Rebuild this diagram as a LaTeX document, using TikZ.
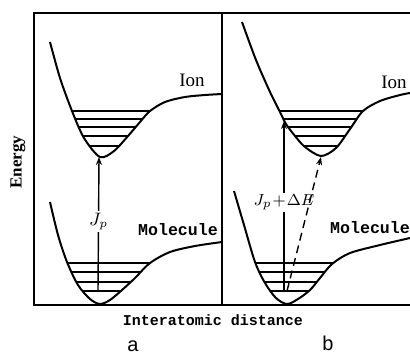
\documentclass[tikz,border=0pt]{standalone}
\usepackage{fontspec}
\setmainfont{Liberation Serif}
\setsansfont{Liberation Sans}
\setmonofont{Liberation Mono}
\usepackage{tikz}
\usetikzlibrary{arrows.meta}
\tikzset{
  frame/.style={line width=1pt},
  curve/.style={line width=1pt},
  level/.style={line width=0.7pt},
  arrow/.style={-{Stealth[length=4pt,width=3pt]},line width=0.7pt},
  dasharrow/.style={arrow,dash pattern=on 4pt off 2.5pt},
  ionlabel/.style={font=\fontsize{9.5}{10}\selectfont},
  mollabel/.style={font=\ttfamily\bfseries\fontsize{8.3}{9}\selectfont},
  arrowlabel/.style={fill=white,inner sep=1pt,font=\fontsize{9}{10}\selectfont},
  axislabel/.style={font=\ttfamily\bfseries\fontsize{7.5}{9}\selectfont},
  energylabel/.style={font=\bfseries\fontsize{8.5}{9}\selectfont,rotate=90},
  panellabel/.style={font=\sffamily\fontsize{10}{11}\selectfont}
}
% potential curves, in pixels of the figure
\newcommand\ionA{plot[smooth] coordinates {(50,42) (60,78) (72,111) (84,138) (100,157) (114,151) (128,136) (140,122) (150,111) (165,102) (185,97) (205,95) (222,94)}}
\newcommand\molA{plot[smooth] coordinates {(50,202) (58,235) (67,262) (78,285) (90,299) (100,304) (110,300) (122,290) (135,278) (150,263) (170,252) (195,246) (222,242)}}
\newcommand\ionB{plot[smooth] coordinates {(242,22) (256,60) (270,92) (280,112) (286,124) (295,136) (305,147) (321,156) (336,148) (350,129) (363,111) (380,101) (400,95) (410,93)}}
\newcommand\molB{plot[smooth] coordinates {(234,191) (244,225) (255,262) (265,283) (276,298) (287,304) (298,299) (310,290) (320,278) (332,264) (350,253) (380,245) (410,238)}}
\begin{document}
\begin{tikzpicture}[x=0.5pt,y=-0.5pt]
  \useasboundingbox (0,0) rectangle (410,354);

  % frame
  \draw[frame] (410,13) -- (34,13) -- (34,305) -- (410,305);
  \draw[frame] (222,13) -- (222,305);

  % vibrational levels
  \begin{scope}
    \clip \ionA -- (222,0) -- (50,0) -- cycle;
    \foreach \y in {111,119,127,136,146}
      \draw[level] (40,\y) -- (222,\y);
  \end{scope}
  \begin{scope}
    \clip \molA -- (222,0) -- (50,0) -- cycle;
    \foreach \y in {263,272,282,291}
      \draw[level] (40,\y) -- (222,\y);
  \end{scope}
  \begin{scope}
    \clip \ionB -- (410,0) -- (242,0) -- cycle;
    \foreach \y in {111,119,127,136,146}
      \draw[level] (230,\y) -- (410,\y);
  \end{scope}
  \begin{scope}
    \clip \molB -- (410,0) -- (234,0) -- cycle;
    \foreach \y in {263,272,282,291}
      \draw[level] (230,\y) -- (410,\y);
  \end{scope}

  % curves
  \draw[curve] \ionA;
  \draw[curve] \molA;
  \draw[curve] \ionB;
  \draw[curve] \molB;

  \node[ionlabel] (iona) at (192,80) {Ion};
  \node[mollabel] (mola) at (178,230) {Molecule};
  \node[ionlabel] (ionb) at (394,82) {Ion};
  \node[mollabel] (molb) at (370,228) {Molecule};

  % transitions
  \coordinate (lowa) at (98,291);
  \coordinate (topa) at (99,157);
  \coordinate (lowb) at (284,291);
  \coordinate (topb) at (284,121);
  \coordinate (lowbd) at (287,291);
  \coordinate (topbd) at (321,157);
  \draw[arrow] (lowa) -- node[arrowlabel,pos=0.52] (jpa) {$J_p$} (topa);
  \draw[arrow] (lowb) -- node[arrowlabel,pos=0.52,font=\fontsize{8.5}{9}\selectfont] (jpb) {$J_p\!+\!\Delta E$} (topb);
  \draw[dasharrow] (lowbd) -- (topbd);

  % axes
  \node[energylabel] (energy) at (18,162) {Energy};
  \node[axislabel] (dist) at (213,320) {Interatomic distance};
  \node[panellabel] (pa) at (133,346) {a};
  \node[panellabel] (pb) at (328,343) {b};
\end{tikzpicture}
\end{document}
